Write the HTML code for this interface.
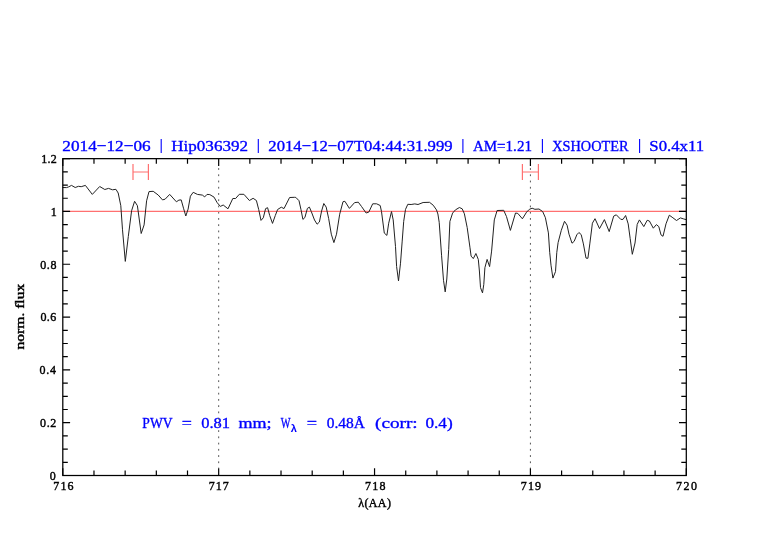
<!DOCTYPE html><html><head><meta charset="utf-8"><style>html,body{margin:0;padding:0;background:#fff;width:782px;height:542px;overflow:hidden}svg{display:block;will-change:transform}</style></head><body>
<svg width="782" height="542" viewBox="0 0 782 542">
<rect width="782" height="542" fill="#fff"/>
<text x="62.38" y="150.7" textLength="88.29" lengthAdjust="spacingAndGlyphs" font-family='"Liberation Serif", serif' font-weight="normal" font-size="15.6" fill="#0000ff" stroke="#0000ff" stroke-width="0.35">2014&#8722;12&#8722;06</text>
<text x="171.31" y="150.7" textLength="76.67" lengthAdjust="spacingAndGlyphs" font-family='"Liberation Serif", serif' font-weight="normal" font-size="15.6" fill="#0000ff" stroke="#0000ff" stroke-width="0.35">Hip036392</text>
<text x="268.31" y="150.7" textLength="184.37" lengthAdjust="spacingAndGlyphs" font-family='"Liberation Serif", serif' font-weight="normal" font-size="15.6" fill="#0000ff" stroke="#0000ff" stroke-width="0.35">2014&#8722;12&#8722;07T04:44:31.999</text>
<text x="472.88" y="150.7" textLength="59.05" lengthAdjust="spacingAndGlyphs" font-family='"Liberation Serif", serif' font-weight="normal" font-size="15.6" fill="#0000ff" stroke="#0000ff" stroke-width="0.35">AM=1.21</text>
<text x="552.22" y="150.7" textLength="76.38" lengthAdjust="spacingAndGlyphs" font-family='"Liberation Serif", serif' font-weight="normal" font-size="15.6" fill="#0000ff" stroke="#0000ff" stroke-width="0.35">XSHOOTER</text>
<text x="649.32" y="150.7" textLength="54.85" lengthAdjust="spacingAndGlyphs" font-family='"Liberation Serif", serif' font-weight="normal" font-size="15.6" fill="#0000ff" stroke="#0000ff" stroke-width="0.35">S0.4x11</text>
<text x="142.37" y="428.1" textLength="30.11" lengthAdjust="spacingAndGlyphs" font-family='"Liberation Serif", serif' font-weight="normal" font-size="15.6" fill="#0000ff" stroke="#0000ff" stroke-width="0.35">PWV</text>
<text x="181.83" y="428.1" textLength="10.12" lengthAdjust="spacingAndGlyphs" font-family='"Liberation Serif", serif' font-weight="normal" font-size="15.6" fill="#0000ff" stroke="#0000ff" stroke-width="0.35">=</text>
<text x="201.22" y="428.1" textLength="28.86" lengthAdjust="spacingAndGlyphs" font-family='"Liberation Serif", serif' font-weight="normal" font-size="15.6" fill="#0000ff" stroke="#0000ff" stroke-width="0.35">0.81</text>
<text x="238.46" y="428.1" textLength="33.11" lengthAdjust="spacingAndGlyphs" font-family='"Liberation Serif", serif' font-weight="normal" font-size="15.6" fill="#0000ff" stroke="#0000ff" stroke-width="0.35">mm;</text>
<text x="280.66" y="428.1" textLength="9.78" lengthAdjust="spacingAndGlyphs" font-family='"Liberation Serif", serif' font-weight="normal" font-size="15.6" fill="#0000ff" stroke="#0000ff" stroke-width="0.35">W</text>
<text x="306.79" y="428.1" textLength="10.3" lengthAdjust="spacingAndGlyphs" font-family='"Liberation Serif", serif' font-weight="normal" font-size="15.6" fill="#0000ff" stroke="#0000ff" stroke-width="0.35">=</text>
<text x="326.68" y="428.1" textLength="38.27" lengthAdjust="spacingAndGlyphs" font-family='"Liberation Serif", serif' font-weight="normal" font-size="15.6" fill="#0000ff" stroke="#0000ff" stroke-width="0.35">0.48&#197;</text>
<text x="375.1" y="428.1" textLength="42.61" lengthAdjust="spacingAndGlyphs" font-family='"Liberation Serif", serif' font-weight="normal" font-size="15.6" fill="#0000ff" stroke="#0000ff" stroke-width="0.35">(corr:</text>
<text x="425.42" y="428.1" textLength="27.3" lengthAdjust="spacingAndGlyphs" font-family='"Liberation Serif", serif' font-weight="normal" font-size="15.6" fill="#0000ff" stroke="#0000ff" stroke-width="0.35">0.4)</text>
<text x="49.86" y="479.8" textLength="14.55" lengthAdjust="spacing" font-family='"Liberation Serif", serif' font-weight="normal" font-size="12" fill="#000" stroke="#000" stroke-width="0.4">0</text>
<text x="40.04" y="426.99" textLength="16.31" lengthAdjust="spacing" font-family='"Liberation Serif", serif' font-weight="normal" font-size="12" fill="#000" stroke="#000" stroke-width="0.4">0.2</text>
<text x="39.47" y="374.18" textLength="16.46" lengthAdjust="spacing" font-family='"Liberation Serif", serif' font-weight="normal" font-size="12" fill="#000" stroke="#000" stroke-width="0.4">0.4</text>
<text x="40.42" y="321.38" textLength="15.89" lengthAdjust="spacing" font-family='"Liberation Serif", serif' font-weight="normal" font-size="12" fill="#000" stroke="#000" stroke-width="0.4">0.6</text>
<text x="40.24" y="268.57" textLength="16.19" lengthAdjust="spacing" font-family='"Liberation Serif", serif' font-weight="normal" font-size="12" fill="#000" stroke="#000" stroke-width="0.4">0.8</text>
<text x="50.87" y="215.76" textLength="10.23" lengthAdjust="spacing" font-family='"Liberation Serif", serif' font-weight="normal" font-size="12" fill="#000" stroke="#000" stroke-width="0.4">1</text>
<text x="41.32" y="162.95" textLength="15.47" lengthAdjust="spacing" font-family='"Liberation Serif", serif' font-weight="normal" font-size="12" fill="#000" stroke="#000" stroke-width="0.4">1.2</text>
<text x="53.2" y="490.3" textLength="20.42" lengthAdjust="spacing" font-family='"Liberation Serif", serif' font-weight="normal" font-size="12" fill="#000" stroke="#000" stroke-width="0.4">716</text>
<text x="208.87" y="490.3" textLength="19.9" lengthAdjust="spacing" font-family='"Liberation Serif", serif' font-weight="normal" font-size="12" fill="#000" stroke="#000" stroke-width="0.4">717</text>
<text x="364.97" y="490.3" textLength="20.44" lengthAdjust="spacing" font-family='"Liberation Serif", serif' font-weight="normal" font-size="12" fill="#000" stroke="#000" stroke-width="0.4">718</text>
<text x="520.79" y="490.3" textLength="20.24" lengthAdjust="spacing" font-family='"Liberation Serif", serif' font-weight="normal" font-size="12" fill="#000" stroke="#000" stroke-width="0.4">719</text>
<text x="676.04" y="490.3" textLength="21.07" lengthAdjust="spacing" font-family='"Liberation Serif", serif' font-weight="normal" font-size="12" fill="#000" stroke="#000" stroke-width="0.4">720</text>
<text x="358.23" y="506.6" textLength="32.66" lengthAdjust="spacing" font-family='"Liberation Serif", serif' font-weight="normal" font-size="12" fill="#000" stroke="#000" stroke-width="0.4">&#955;(AA)</text>
<line x1="161.2" y1="138.9" x2="161.2" y2="152.9" stroke="#0000ff" stroke-width="1.1"/>
<line x1="258.3" y1="138.9" x2="258.3" y2="152.9" stroke="#0000ff" stroke-width="1.1"/>
<line x1="462.9" y1="138.9" x2="462.9" y2="152.9" stroke="#0000ff" stroke-width="1.1"/>
<line x1="542.4" y1="138.9" x2="542.4" y2="152.9" stroke="#0000ff" stroke-width="1.1"/>
<line x1="639.6" y1="138.9" x2="639.6" y2="152.9" stroke="#0000ff" stroke-width="1.1"/>
<text x="290.8" y="432.3" font-family='"Liberation Sans", sans-serif' font-weight="bold" font-size="11" fill="#0000ff">&#955;</text>
<text transform="translate(23.8 316.6) rotate(-90)" text-anchor="middle" textLength="65.7" lengthAdjust="spacingAndGlyphs" font-family='"Liberation Serif", serif' font-weight="normal" font-size="12" fill="#000" stroke="#000" stroke-width="0.4">norm. flux</text>
<line x1="218.68" y1="168.1" x2="218.68" y2="468.2" stroke="#555" stroke-width="1" stroke-dasharray="1.8 4.44"/>
<line x1="530.42" y1="168.1" x2="530.42" y2="468.2" stroke="#555" stroke-width="1" stroke-dasharray="1.8 4.44"/>
<line x1="62.8" y1="211.46" x2="686.3" y2="211.46" stroke="#ff7070" stroke-width="1.2"/>
<path d="M62.6 187.5 L66.5 187.6 L68.8 186.8 L71.5 185.4 L75.2 187.5 L78.5 186.3 L81.2 186.7 L85.4 185.4 L92.3 194.4 L99.7 186.5 L104.8 189.5 L108.5 188.4 L112.6 189.8 L115.9 189.3 L118.2 193 L120.8 205.7 L122.5 229.8 L125.3 261.4 L128.3 236.5 L131.6 210.7 L134.6 201.3 L137.4 205.7 L141.2 233.5 L144.1 224.9 L146.6 200.8 L149 191.6 L153.2 191.3 L158.2 195 L162.5 199.9 L165.1 199.2 L169.7 194.4 L176.4 201.8 L178.9 200.1 L181.2 199.9 L183.5 208.2 L185.8 216 L188.1 209.1 L190.4 196.2 L193.2 192.3 L197.4 194.4 L202.4 195.1 L204.7 196.9 L207 194.4 L209.8 194.6 L214 197.1 L217.2 202.7 L220.4 206.4 L223.2 205 L228 208.8 L232.8 198.5 L235.6 198.5 L239.3 194.3 L243.9 194.3 L249.4 200.5 L253.1 198.3 L256.4 200.5 L258.7 209.5 L261 220.4 L263.3 217.8 L265.6 208.6 L267.6 207.7 L269.7 215.5 L272.5 223.4 L275.3 215.5 L277.6 209.5 L281.3 207.2 L284 208.6 L289.6 197.5 L294.6 197.3 L295.8 197.4 L299 200.7 L301 209.7 L302.9 219.4 L304.9 217.5 L307.4 208.4 L309.4 207.1 L311.3 211.6 L314.5 220 L317.1 224.2 L319.4 222 L321.6 211 L323.8 203.5 L326.2 207.1 L328.7 218.7 L331.3 234.2 L333.9 242.6 L336.5 234.2 L339.7 214.2 L343 201.7 L344.9 201.3 L349.4 208.4 L354.6 202.6 L358.3 202.2 L361.6 206.6 L366.1 213 L368.8 212.1 L372.7 203.8 L376.6 203.8 L380.2 205.5 L381.5 211.6 L384.3 233.1 L386.9 235.4 L388.7 223.2 L391.5 211.6 L393.2 219.9 L395.5 246.6 L396.6 266.5 L398.5 280.9 L400.5 263.2 L402.2 241.1 L403.7 221.4 L405.5 209.4 L407.8 204.3 L411.1 204.5 L414.8 203.9 L418 204.5 L423.1 202.5 L429.5 202.3 L433.2 205.2 L436.5 209.9 L437.9 214 L439.2 222.3 L441.6 255.8 L443.5 280.3 L445.2 291.9 L446.8 279 L448.7 249.4 L449.9 221.4 L452.6 213.1 L455.4 209.9 L459.4 207.5 L462.2 208.8 L464.4 213.8 L467.2 227.6 L470 247.8 L471.1 256.1 L473.3 258.6 L475.9 253.5 L478.3 259.4 L479.4 271 L480.5 287.6 L482.5 292.9 L483.8 284.3 L484.9 267.7 L487.1 259.4 L489.6 266.6 L491.6 251.1 L494.3 219.9 L497.1 210.5 L503.7 210.3 L506.5 216.6 L510.4 230.4 L515.5 213 L517.8 213.4 L522.4 218.8 L526.6 212.1 L529.4 209.3 L532.1 208.2 L534.9 209.3 L539 209 L542.7 211.6 L545.4 217.7 L548.4 232.9 L549.7 252.3 L551 265.2 L552.9 278.1 L555.5 271.6 L556.8 252.3 L558.1 242.6 L561.3 230.3 L564.5 221.3 L567.1 225.2 L569 234.2 L572 243.2 L574.2 241.3 L576.8 234.8 L578.9 232.5 L581.2 234.6 L583.4 243.9 L586 258.1 L587.9 258.3 L589.8 243.9 L592.4 223.2 L595 218.7 L599.5 228.6 L604.4 219.6 L609.2 231.6 L613.7 216.1 L616.3 214.8 L620.8 219.4 L623 219.4 L625.6 215.5 L628.2 223.9 L630.2 238.7 L632.3 254.3 L635 243 L637.2 224.4 L639.4 219.9 L643.8 226.6 L647.2 220.3 L649.4 221 L653.3 228.2 L656.4 224.6 L658.8 226.6 L661 234.9 L663 236.3 L666 223.8 L669.3 215.2 L672.1 217.2 L676.5 220.5 L680.4 217.9 L683.2 218.8 L686.4 219.7" fill="none" stroke="#222" stroke-width="1" stroke-linejoin="round"/>
<path d="M133 164 V180 M148.4 164 V180 M133 172 H148.4" stroke="#ff7070" stroke-width="1.2" fill="none"/>
<path d="M522.4 164 V180 M538.4 164 V180 M522.4 172 H538.4" stroke="#ff7070" stroke-width="1.2" fill="none"/>
<path d="M62.8 475.5V468.2M62.8 158.65V165.95M93.98 475.5V470.5M93.98 158.65V163.65M125.15 475.5V470.5M125.15 158.65V163.65M156.33 475.5V470.5M156.33 158.65V163.65M187.5 475.5V470.5M187.5 158.65V163.65M218.68 475.5V468.2M218.68 158.65V165.95M249.85 475.5V470.5M249.85 158.65V163.65M281.02 475.5V470.5M281.02 158.65V163.65M312.2 475.5V470.5M312.2 158.65V163.65M343.37 475.5V470.5M343.37 158.65V163.65M374.55 475.5V468.2M374.55 158.65V165.95M405.73 475.5V470.5M405.73 158.65V163.65M436.9 475.5V470.5M436.9 158.65V163.65M468.08 475.5V470.5M468.08 158.65V163.65M499.25 475.5V470.5M499.25 158.65V163.65M530.42 475.5V468.2M530.42 158.65V165.95M561.6 475.5V470.5M561.6 158.65V163.65M592.77 475.5V470.5M592.77 158.65V163.65M623.95 475.5V470.5M623.95 158.65V163.65M655.12 475.5V470.5M655.12 158.65V163.65M686.3 475.5V468.2M686.3 158.65V165.95M62.8 475.5H70.1M686.3 475.5H679M62.8 462.3H67.8M686.3 462.3H681.3M62.8 449.1H67.8M686.3 449.1H681.3M62.8 435.89H67.8M686.3 435.89H681.3M62.8 422.69H70.1M686.3 422.69H679M62.8 409.49H67.8M686.3 409.49H681.3M62.8 396.29H67.8M686.3 396.29H681.3M62.8 383.09H67.8M686.3 383.09H681.3M62.8 369.88H70.1M686.3 369.88H679M62.8 356.68H67.8M686.3 356.68H681.3M62.8 343.48H67.8M686.3 343.48H681.3M62.8 330.28H67.8M686.3 330.28H681.3M62.8 317.07H70.1M686.3 317.07H679M62.8 303.87H67.8M686.3 303.87H681.3M62.8 290.67H67.8M686.3 290.67H681.3M62.8 277.47H67.8M686.3 277.47H681.3M62.8 264.27H70.1M686.3 264.27H679M62.8 251.06H67.8M686.3 251.06H681.3M62.8 237.86H67.8M686.3 237.86H681.3M62.8 224.66H67.8M686.3 224.66H681.3M62.8 211.46H70.1M686.3 211.46H679M62.8 198.26H67.8M686.3 198.26H681.3M62.8 185.05H67.8M686.3 185.05H681.3M62.8 171.85H67.8M686.3 171.85H681.3M62.8 158.65H70.1M686.3 158.65H679" stroke="#000" stroke-width="1.2" fill="none"/>
<rect x="62.8" y="158.65" width="623.5" height="316.85" fill="none" stroke="#000" stroke-width="1.25"/>
</svg></body></html>
